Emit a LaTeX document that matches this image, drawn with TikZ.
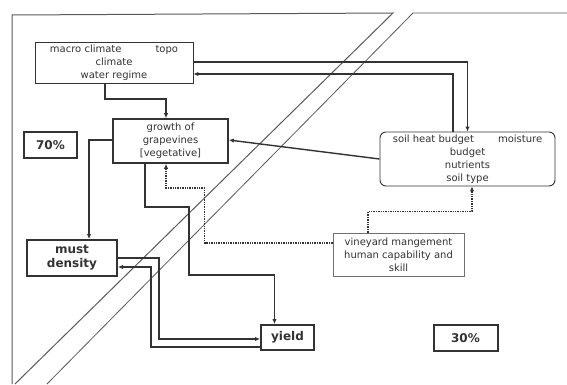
\documentclass[tikz,border=0pt]{standalone}
\usepackage{fontspec}
\setmainfont{DejaVu Sans}
\usetikzlibrary{arrows.meta}
\definecolor{ink}{HTML}{333333}
\definecolor{frameink}{HTML}{5A5A5A}
\begin{document}
\begin{tikzpicture}[x=1pt,y=1pt,
  box/.style = {shape=rectangle, draw=ink, line width=0.9pt, align=center,
    text=ink, inner sep=0pt, font=\fontsize{10}{13}\selectfont},
  thickbox/.style = {box, line width=2pt, font=\fontsize{12}{14}\selectfont\bfseries},
  link/.style = {draw=ink, line width=1.4pt, -{Latex[length=5pt,width=4.5pt]}},
  dlink/.style = {link, densely dotted}]
  \useasboundingbox[fill=white] (0,0) rectangle (567,384);
  % frame with the cut
  \draw[frameink, line width=1pt] (12,0) -- (12,369) -- (393,371) -- (15,0);
  \draw[frameink, line width=0.8pt] (567,371) -- (413,371) -- (47,0);
  % boxes
  \node[box, minimum width=158, minimum height=41] (macro) at (114,321.5)
    {macro climate\hspace{3.4em}topo\\climate\\water regime};
  \node[box, line width=1.7pt, minimum width=115, minimum height=44] (growth) at (170.5,243)
    {growth of\\grapevines\\{[}vegetative{]}};
  \node[thickbox, minimum width=53, minimum height=26] (pct70) at (50.5,239) {70\%};
  \node[box, rounded corners=6pt, minimum width=175, minimum height=54] (soil) at (467.5,225)
    {soil heat budget\hspace{2.4em}moisture\\budget\\nutrients\\soil type};
  \node[thickbox, minimum width=90, minimum height=36] (must) at (72,126) {must\\density};
  \node[thickbox, minimum width=53, minimum height=25] (yield) at (287.5,46.5) {yield};
  \node[thickbox, minimum width=64, minimum height=26] (pct30) at (465.5,46) {30\%};
  \node[box, draw=ink!70, minimum width=131, minimum height=43] (vine) at (398.5,129.5)
    {vineyard mangement\\human capability and\\skill};
  % connectors
  \draw[link] ([xshift=-9pt]macro.south) |- ([xshift=-4.5pt,yshift=19pt]growth.north)
    -- ([xshift=-4.5pt]growth.north);
  \draw[link] ([yshift=0.5pt]macro.east) -| (soil.north);
  \draw[link] ([xshift=-14.5pt]soil.north) |- ([yshift=-11.5pt]macro.east);
  \draw[link] (soil.west) -- ([yshift=1pt]growth.east);
  \draw[link] ([yshift=1pt]growth.west) -| ([xshift=17pt]must.north);
  \draw[link] ([xshift=-25.5pt]growth.south) -- ++(0,-43) -- ++(44,0) -- ++(0,-68)
    -| ([xshift=-13pt]yield.north);
  \draw[dlink] ([yshift=11.5pt]vine.west) -- ++(-128,0) -- ++(0,55)
    -| ([xshift=-4.5pt]growth.south);
  \draw[dlink] ([xshift=-30.5pt]vine.north) -- ++(0,21) -| ([xshift=4.5pt]soil.south);
  \draw[link] (must.east) -- ++(41,0) |- ([yshift=-1.5pt]yield.west);
  \draw[link] ([yshift=-9.5pt]yield.west) -- ++(-109,0) |- ([yshift=-9pt]must.east);
\end{tikzpicture}
\end{document}
